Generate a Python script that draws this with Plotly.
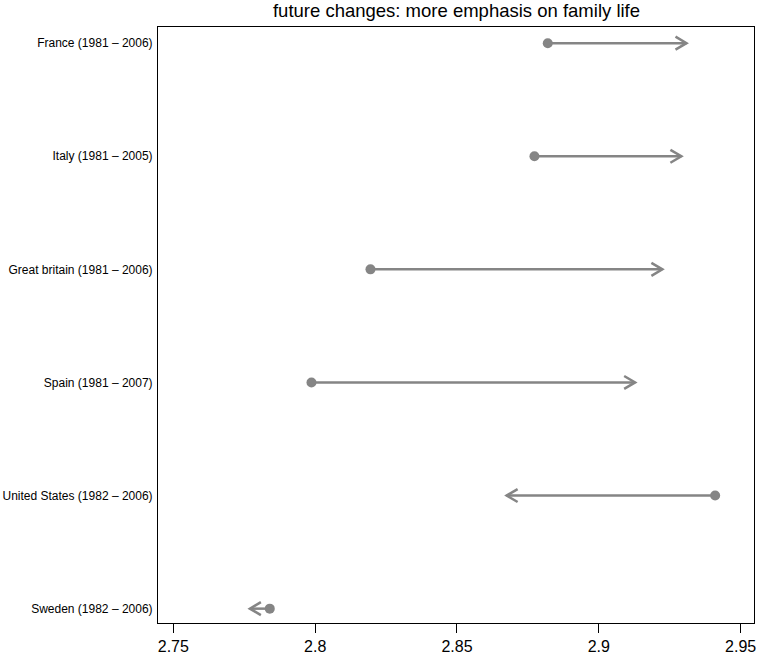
import plotly.graph_objects as go

countries = ["France (1981 – 2006)", "Italy (1981 – 2005)", "Great britain (1981 – 2006)",
             "Spain (1981 – 2007)", "United States (1982 – 2006)", "Sweden (1982 – 2006)"]
start_vals = [2.882, 2.8773, 2.8195, 2.7987, 2.941, 2.784]
end_vals = [2.9309, 2.9291, 2.9224, 2.9128, 2.8675, 2.777]
x_ticks = [2.75, 2.8, 2.85, 2.9, 2.95]

W, H = 757, 657
ml, mr, mt, mb = 158, 2, 27, 31
xr = [2.7446, 2.9547]
n = len(countries)
ypos = [n - 1 - i for i in range(n)]
yr = [-0.127, 5.143]
px_x = (W - ml - mr) / (xr[1] - xr[0])
px_y = (H - mt - mb) / (yr[1] - yr[0])

color = "#858585"
fig = go.Figure()

lx, ly, hx, hy = [], [], [], []
for s, e, y in zip(start_vals, end_vals, ypos):
    lx += [s, e, None]
    ly += [y, y, None]
    d = 1 if e > s else -1
    bx = e - d * 11 / px_x
    dy = 6.5 / px_y
    hx += [bx, e, bx, None]
    hy += [y + dy, y, y - dy, None]

fig.add_trace(go.Scatter(x=lx, y=ly, mode="lines", line=dict(color=color, width=2.5),
                         hoverinfo="skip", showlegend=False))
fig.add_trace(go.Scatter(x=hx, y=hy, mode="lines", line=dict(color=color, width=2.5),
                         hoverinfo="skip", showlegend=False))
fig.add_trace(go.Scatter(x=start_vals, y=ypos, mode="markers",
                         marker=dict(color=color, size=10), showlegend=False))

fig.update_layout(
    width=W, height=H,
    margin=dict(l=ml, r=mr, t=mt, b=mb),
    paper_bgcolor="white", plot_bgcolor="white",
    font=dict(family="Liberation Sans, Arial, sans-serif", color="black"),
    title=dict(text="future changes: more emphasis on family life", x=(ml + (W - ml - mr) / 2) / W,
               xanchor="center", y=1 - 11 / H, yanchor="middle", font=dict(size=18.5)),
    xaxis=dict(range=xr, tickvals=x_ticks, ticktext=[str(v) for v in x_ticks],
               ticks="outside", ticklen=9, tickwidth=1, tickcolor="black",
               showline=True, linecolor="black", linewidth=1, mirror=True,
               showgrid=False, zeroline=False, tickfont=dict(size=16), ticklabelstandoff=0),
    yaxis=dict(range=yr, tickvals=ypos, ticktext=countries, ticks="",
               showline=True, linecolor="black", linewidth=1, mirror=True,
               showgrid=False, zeroline=False, tickfont=dict(size=12), ticklabelstandoff=2),
)

fig.write_html("out.html")
